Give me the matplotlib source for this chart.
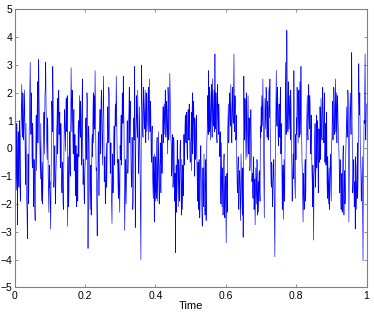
import numpy as np
import matplotlib
matplotlib.use("Agg")
import matplotlib.pyplot as plt

# Signal values: main samples (rowNN) and the samples
# lying between them (rowNNb); each pair of rows covers 0.05 s.
row00 = [0.2, 1.3, -0.4, 0.9, -2.75, 0.6, -1.4, 0.3, -1.9, 0.8, 2.3, 0.4, 1.9, 0.7, 2.1, -0.6, 0.9, -1.8, -3.25, -0.2, -1.6, 1.2, 3.1, 0.5, 1.8]
row01 = [-0.7, 0.4, -2.1, -0.9, -2.6, 0.3, -0.8, 1.6, 0.2, 3.2, 1.1, -0.3, 0.9, -1.9, -0.5, -1.4, 0.6, -0.2, 2.0, 3.1, 0.7, -0.4, 0.8, -1.7, -0.6]
row02 = [-1.2, -2.9, 0.4, 1.5, 2.95, 0.2, -1.1, 0.1, -2.0, -0.4, 0.9, -0.2, 1.7, 0.5, 1.3, -0.7, 0.4, -1.6, -0.6, -2.2, 0.3, 1.0, -0.1, 1.8, 0.6]
row03 = [-2.8, -0.3, -1.5, 0.2, -1.0, 2.9, 0.6, 1.8, -0.2, 1.4, -0.5, -1.7, 0.1, -2.1, -0.8, 0.7, -0.3, 1.9, 0.4, 1.2, -0.6, 2.5, -1.3, -0.4, -2.0]
row04 = [-0.5, 1.1, 0.3, 1.7, -3.6, 0.8, -0.9, -2.2, -0.6, -1.5, 0.5, 1.3, 0.2, 1.9, 2.8, 0.4, -0.7, -3.15, -1.0, 0.2, -0.8, 1.4, 0.6, 2.1, 0.1]
row05 = [1.0, 2.6, -1.2, -0.3, -1.9, 0.2, -0.5, 1.5, 0.7, 1.9, 0.3, -0.6, -1.4, -2.7, -0.2, -1.1, 0.8, 0.1, 1.6, 2.6, 0.5, -0.4, -1.8, -0.9, -2.3]
row06 = [-0.4, 1.2, 0.3, 1.8, 2.6, 0.9, -2.95, -1.1, -2.0, -0.3, 0.6, -0.5, 1.4, 0.2, 1.7, -0.6, -1.3, -0.1, -1.9, 1.1, 2.95, -2.85, 0.7, 1.9, 0.4]
row07 = [0.8, -0.6, 1.5, -1.2, -4.0, 3.0, 1.3, 0.4, 1.9, 0.7, 2.1, 0.2, 1.6, 0.9, 1.8, 0.3, 2.5, 0.6, 1.4, -0.5, 0.8, -1.4, -0.3, -2.65, -1.0]
row08 = [-0.3, -1.8, 0.4, -1.1, 0.6, -2.0, -0.5, -1.4, 0.3, -0.9, 0.9, 0.2, 1.6, 0.5, 1.9, 0.8, 1.3, -0.2, 1.7, 0.6, 2.7, 1.0, 0.1, -0.8, 0.3]
row09 = [-1.2, 0.2, -1.9, -3.75, -0.6, -1.5, 0.1, -2.1, -0.8, -1.3, 0.3, -1.7, -0.4, -2.2, -0.9, 0.5, -0.3, 1.2, 0.2, 1.0, -0.4, 1.4, 0.3, 0.9, -0.5]
row10 = [0.4, -0.8, 2.0, 0.3, 1.5, -1.0, 0.9, -0.3, 1.2, -1.4, -0.5, -2.2, -0.9, -1.8, 0.1, -1.5, -2.8, -0.7, -2.0, -1.1, -2.4, -0.4, -1.6, 0.6, 1.3]
row11 = [2.8, 0.6, 1.9, 0.9, 2.3, 0.4, 1.6, 0.8, 2.1, 3.4, 0.7, 1.5, 0.2, 1.8, 0.5, 1.2, -0.3, -1.4, 0.2, -2.1, -0.7, -1.8, -0.2, -2.5, -1.0]
row12 = [-3.4, -0.9, 0.5, 1.6, 0.3, 2.0, 0.8, 1.4, 0.2, 2.2, 0.9, 3.4, 0.6, 1.7, 0.4, -0.5, -1.6, -0.3, -2.2, -0.8, -1.9, -0.2, -1.4, -2.4, -3.2]
row13 = [2.6, 0.3, 1.7, -0.4, 1.2, 0.5, 1.9, -0.2, 0.8, -0.6, 1.4, 0.1, -0.9, -1.8, -0.3, -1.5, -2.75, -0.7, -2.0, -0.5, -1.6, -2.3, -0.8, -1.9, 0.4]
row14 = [0.6, 1.4, 2.5, 0.3, -2.5, 1.8, 0.7, 2.0, 0.4, 1.5, 0.9, 2.2, 2.5, -0.3, -1.4, -0.6, -1.9, -0.9, -1.5, -3.9, 0.2, 2.8, 0.8, 1.9, 0.1]
row15 = [1.6, 0.4, 2.2, 0.9, -0.8, -1.7, -2.55, -0.4, -1.6, 3.1, 0.5, 4.25, 1.2, 2.4, 0.7, 1.9, 0.3, 1.5, -0.6, -1.5, -0.2, 2.8, -0.9, -1.8, -0.4]
row16 = [0.5, 1.8, 0.2, 2.1, 0.9, 1.4, 2.95, 0.6, -0.9, -2.65, -1.3, -2.0, -0.4, -1.5, 0.8, 1.9, 0.3, 2.3, 0.7, 1.6, -0.2, 0.9, -1.2, -0.6, -3.3]
row17 = [-0.8, 0.9, -1.1, 1.2, -0.3, 0.6, -1.3, 0.2, 1.5, -0.4, 1.1, 0.3, 2.2, 0.7, 1.6, -0.5, 0.9, 0.1, -1.2, -0.3, -2.0, -0.7, -1.6, -0.2, -1.9]
row18 = [0.4, 1.7, 0.8, 2.1, 0.5, 2.5, 1.3, 0.2, 1.9, 0.7, -0.3, -1.6, -0.5, -2.2, -0.9, -1.4, 0.1, -2.4, -0.8, -1.7, 0.3, 1.5, 0.6, 1.9, -2.65]
row19 = [0.8, 2.0, 0.5, 3.45, -0.2, -1.3, -0.4, -1.9, -2.9, -0.7, -1.5, 0.2, -1.1, 3.05, 1.2, 0.4, -0.8, -1.6, -0.3, -4.05, -0.6, 0.9, 3.4, 0.3, 1.6]

row00b = [-1.1, 0.7, -1.5, -0.6, 0.2, -0.9, 1.0, -1.2, 0.4, 1.6, 0.9, 2.0, 0.3, 1.4, 0.8, -1.3, -0.4, -2.3, -1.2, -2.0, 0.5, 2.2, 1.4, 2.0, -0.3]
row01b = [0.9, -1.8, -0.4, -2.2, -1.1, 1.2, 0.5, 2.4, 1.3, 1.8, 0.2, -1.1, -0.6, -1.2, -2.0, 0.1, 1.3, 0.8, 2.2, 1.5, 0.2, 1.1, -1.0, -2.3, -1.4]
row02b = [-2.1, -1.3, 1.7, 0.6, 1.9, -1.4, -0.2, -1.7, -0.9, 0.6, 1.8, 0.5, 2.1, 1.0, -0.3, 0.9, -1.2, -0.5, -1.9, -0.8, 1.4, 0.4, 1.2, 0.8, 1.9]
row03b = [-1.5, -2.1, 0.6, -0.9, 1.3, 1.7, 2.1, 0.3, 0.9, -0.8, 0.5, -1.1, -1.5, -0.2, -1.9, 1.0, 0.6, 0.8, 1.7, -0.2, 1.6, 0.1, -0.6, -1.8, -0.9]
row04b = [0.8, -0.4, 2.0, -0.7, -1.8, 0.2, -1.6, -1.0, -2.4, 0.3, -0.3, 2.0, 1.1, 0.7, 1.5, -0.8, -2.2, -1.3, 0.6, -1.7, 0.7, -0.2, 1.7, 0.9, -0.6]
row05b = [1.9, 0.4, -0.4, -2.0, -0.8, -1.4, 0.9, 0.2, 2.2, 1.2, -0.9, 0.2, -2.1, -0.9, -1.6, 0.3, -0.6, 1.4, 0.8, 1.5, -0.5, -1.3, -0.4, -1.7, 0.1]
row06b = [0.7, -0.6, 2.0, 0.9, 1.5, -0.8, -1.9, -0.4, -1.2, 1.0, -0.9, 0.8, 2.2, 1.1, 0.5, -1.4, 0.4, -2.2, -0.8, 0.3, 1.5, -0.6, 1.2, 0.8, 2.1]
row07b = [-0.9, 0.6, 0.2, -2.3, 1.0, 1.8, 0.6, 2.2, 1.1, 1.5, 0.4, 2.0, 0.6, 1.2, 2.2, 1.4, 0.9, 1.7, -0.2, 0.5, -0.9, -1.8, -1.1, -0.2, -1.9]
row08b = [-1.5, 0.1, -1.9, -0.2, -1.3, -0.7, 0.2, -1.6, 0.5, -0.2, 1.5, 0.8, 1.0, 2.1, 0.4, 1.7, 0.6, 2.2, 0.3, 1.5, 1.9, 0.4, -1.0, 0.5, -1.4]
row09b = [0.4, -1.3, -0.9, -1.8, -2.3, 0.3, -1.2, -0.4, -1.9, 0.0, -0.8, -2.4, -1.3, -0.6, -1.7, -0.6, 0.8, 0.4, 1.3, -0.2, 1.1, 0.5, 1.6, -0.3, 0.2]
row10b = [1.3, 0.9, -0.2, 1.7, 0.5, 1.1, -0.4, 0.8, -0.6, -1.9, -1.2, -0.4, -2.5, -0.5, -1.0, -2.3, -1.3, -2.1, -0.2, -1.8, -0.8, -2.6, 0.2, 1.9, 0.5]
row11b = [1.4, 2.2, 0.3, 1.6, 1.1, 2.5, 0.9, 1.9, 0.6, 1.3, 2.0, 0.4, 2.3, 1.0, 1.6, -0.2, 0.6, -2.0, -0.8, -1.1, -2.4, -0.5, -1.9, -1.3, -2.2]
row12b = [-1.6, -2.3, 1.1, 0.2, 1.8, 1.1, 2.3, 0.5, 1.5, 1.2, 2.0, 1.3, 1.9, 0.3, 1.2, -1.3, -0.8, -2.1, -1.0, -1.4, -2.6, -0.9, -2.0, -0.7, -1.5]
row13b = [1.2, 1.8, 0.6, 2.0, -0.3, 1.5, 0.6, 1.1, -0.8, 0.9, 0.3, -1.2, -1.5, -0.6, -2.2, -1.1, -1.8, -1.3, -0.4, -2.4, -1.2, -0.9, -1.5, 0.8, 1.5]
row14b = [1.9, 0.8, 1.2, -1.0, 0.6, 1.3, 2.2, 1.0, 1.7, 0.3, 2.0, 1.1, 0.4, -1.2, -0.5, -2.1, -1.2, -0.4, -2.3, -1.0, 1.6, 1.2, 2.2, 0.6, 1.3]
row15b = [0.7, 1.8, -0.2, 0.5, -2.2, -0.6, -1.3, -1.9, 0.4, 1.8, 1.5, 2.3, 0.6, 1.8, 1.3, 0.9, 2.1, -0.1, -1.9, -0.7, -1.1, 0.4, -1.4, 0.5, 1.1]
row16b = [2.2, 1.0, 1.6, 0.4, 2.4, 0.5, 1.3, -0.5, -1.8, -0.9, -2.2, -0.7, -1.9, 0.2, 1.3, 0.6, 1.5, 1.1, 1.9, 0.1, 1.2, -0.8, -2.1, -1.5, -1.0]
row17b = [0.3, -1.4, 0.5, -0.7, 1.0, -1.6, 0.7, -0.5, 0.8, 1.8, 0.4, 1.9, 1.0, 0.2, 2.0, 0.5, -0.6, 1.3, -1.8, -0.9, -1.3, -2.2, -0.5, -1.2, 0.2]
row18b = [1.3, 0.3, 2.2, 1.0, 1.6, 0.6, 2.0, 1.5, 1.1, 0.2, -1.1, -0.4, -1.9, -1.2, -2.3, -0.2, -1.6, -1.1, -2.0, -0.3, 1.0, 0.4, 2.1, 0.9, -0.8]
row19b = [1.5, 1.1, 2.3, 1.0, -1.6, -0.5, -2.1, -1.2, -0.3, -2.2, -1.0, -1.8, 0.6, 1.7, 2.0, -0.5, -1.9, -0.9, -2.4, -1.4, 1.0, 2.1, 0.8, 1.3]

main_rows = [row00, row01, row02, row03, row04, row05, row06, row07, row08, row09,
             row10, row11, row12, row13, row14, row15, row16, row17, row18, row19]
between_rows = [row00b, row01b, row02b, row03b, row04b, row05b, row06b, row07b, row08b, row09b,
                row10b, row11b, row12b, row13b, row14b, row15b, row16b, row17b, row18b, row19b]

signal = []
for a, b in zip(main_rows, between_rows):
    for i, v in enumerate(a):
        signal.append(v)
        if i < len(b):
            signal.append(b[i])
time = np.linspace(0, 1, len(signal))

x_ticks = [0, 0.2, 0.4, 0.6, 0.8, 1]
x_tick_labels = ["0", "0.2", "0.4", "0.6", "0.8", "1"]
y_ticks = [-5, -4, -3, -2, -1, 0, 1, 2, 3, 4, 5]
y_tick_labels = ["\u22125", "\u22124", "\u22123", "\u22122", "\u22121", "0", "1", "2", "3", "4", "5"]

plt.rcParams['font.family'] = ['Liberation Sans', 'DejaVu Sans']

fig = plt.figure(figsize=(3.74, 3.16), dpi=100)
ax = fig.add_axes([0.0393, 0.0908, 0.9407, 0.8792])
ax.plot(time, signal, color='#0000ff', lw=0.45)
ax.set_xlim(0, 1)
ax.set_ylim(-5, 5)
ax.set_xticks(x_ticks)
ax.set_xticklabels(x_tick_labels)
ax.set_yticks(y_ticks)
ax.set_yticklabels(y_tick_labels)
ax.tick_params(direction='in', length=2, width=0.6, color='#808080',
               labelsize=7.5, top=True, right=True, pad=1.5)
ax.tick_params(axis='x', pad=3)
for s in ax.spines.values():
    s.set_color('#808080')
    s.set_linewidth(0.8)
ax.set_xlabel("Time", fontsize=8, labelpad=0)
fig.savefig("out.png", dpi=100, facecolor='white')
